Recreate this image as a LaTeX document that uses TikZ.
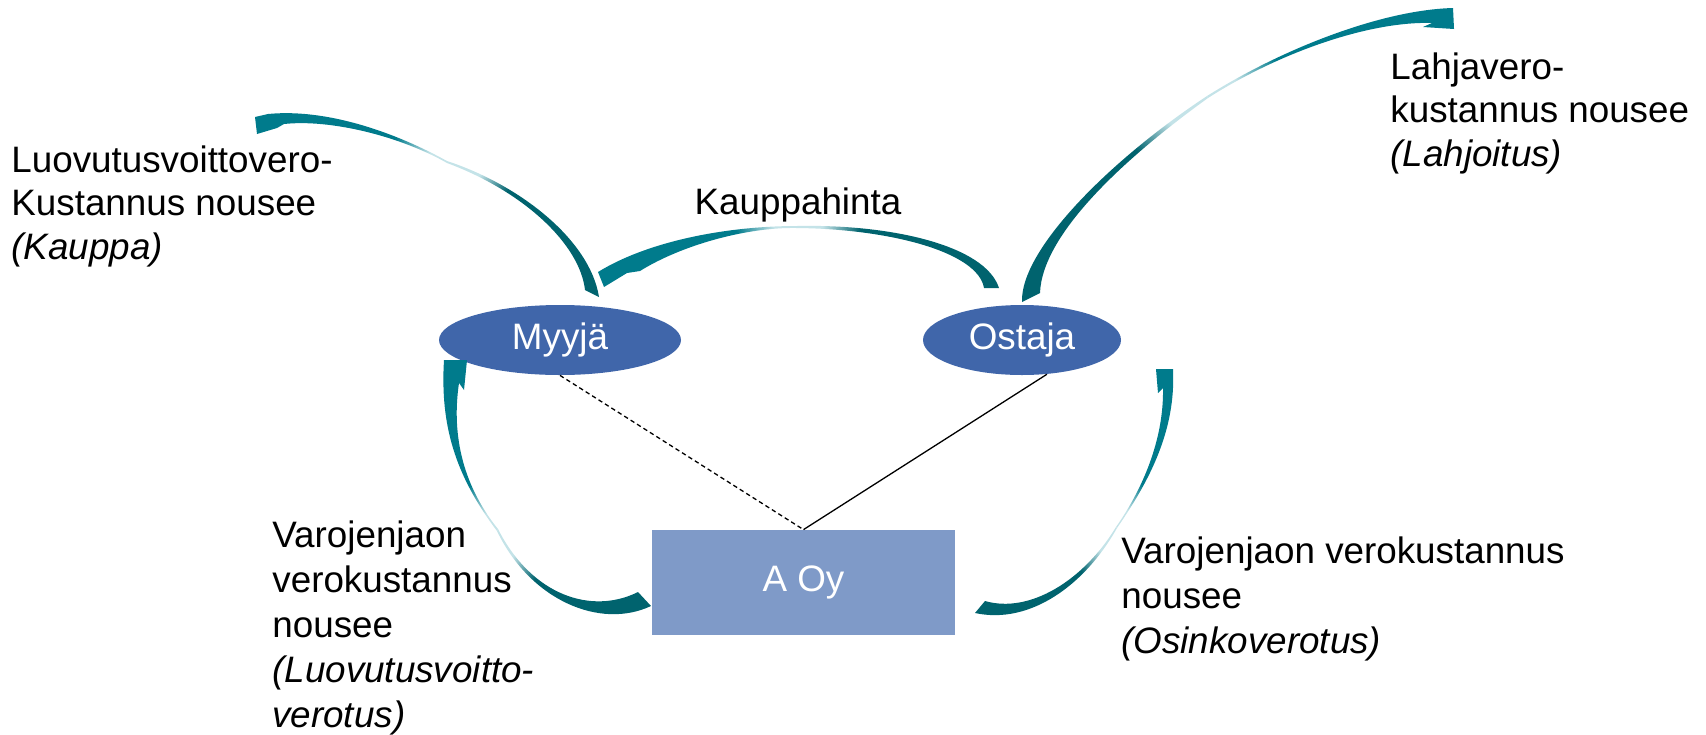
\documentclass[tikz,border=0pt]{standalone}
\usepackage{fontspec}
\setmainfont{Liberation Sans}
\usetikzlibrary{shapes.geometric}
\definecolor{partyblue}{HTML}{4066AA}
\definecolor{firmblue}{HTML}{7F9AC8}
\definecolor{headteal}{HTML}{007B8C}
\definecolor{taildark}{HTML}{00636E}
\definecolor{fadeteal}{HTML}{C4E3E8}
% axis shadings that stay solid and only fade near the thin middle of an arrow
\pgfdeclareverticalshading{headshade}{100bp}{color(0bp)=(fadeteal); color(26bp)=(fadeteal); color(37bp)=(headteal); color(100bp)=(headteal)}
\pgfdeclareverticalshading{tailshade}{100bp}{color(0bp)=(fadeteal); color(26bp)=(fadeteal); color(37bp)=(taildark); color(100bp)=(taildark)}
\begin{document}
\begin{tikzpicture}[x=0.5pt,y=-0.5pt,
  party/.style={ellipse,fill=partyblue,text=white,inner sep=0pt,
    minimum height=35pt,font=\fontsize{18.4}{22}\selectfont},
  firm/.style={rectangle,fill=firmblue,text=white,inner sep=0pt,
    minimum width=151.5pt,minimum height=52.5pt,font=\fontsize{18.4}{22}\selectfont},
  upper/.style={align=left,inner sep=0pt,font=\fontsize{18.4}{21.75}\selectfont},
  lower/.style={align=left,inner sep=0pt,font=\fontsize{18.4}{22.5}\selectfont},
  headpart/.style={draw=none,shading=headshade,shading angle=#1},
  tailpart/.style={draw=none,shading=tailshade,shading angle=#1},
  link/.style={line width=0.65pt,black}
]
\useasboundingbox (0,0) rectangle (1706,734);

% parties and the company
\node[party,minimum width=121pt] (myyja) at (560,340) {Myyjä};
\node[party,minimum width=99pt] (ostaja) at (1022,340) {Ostaja};
\node[firm] (aoy) at (803.5,582.5) {A Oy};

% ownership links
\draw[link,dash pattern=on 2.2pt off 1.6pt] (myyja.south) -- (aoy.north);
\draw[link] (ostaja.-54) -- (aoy.north);

% labels (base anchor sits on the last line)
\node[upper,anchor=base west] (kauppaTxt) at (11,259) {Luovutusvoittovero-\\Kustannus nousee\\\textit{(Kauppa)}};
\node[anchor=base,inner sep=0pt,font=\fontsize{18.4}{22}\selectfont] (hintaTxt) at (798,214) {Kauppahinta};
\node[upper,anchor=base west] (lahjaTxt) at (1390,166) {Lahjavero-\\kustannus nousee\\\textit{(Lahjoitus)}};
\node[lower,anchor=base west] (luovTxt) at (272,727) {Varojenjaon\\verokustannus\\nousee\\\textit{(Luovutusvoitto-}\\\textit{verotus)}};
\node[lower,anchor=base west] (osinkoTxt) at (1121,653) {Varojenjaon verokustannus\\nousee\\\textit{(Osinkoverotus)}};

% curved tapered arrows: each drawn as a tail half and a head half
% Myyja -> capital gains tax cost
\shade[tailpart=-132.5] (447,161) .. controls (520,185) and (590,240) .. (599,297)
  -- (585,290) .. controls (580,245) and (525,192) .. (447,163) -- cycle;
\shade[headpart=79] (447,161) .. controls (400,135) and (330,108) .. (268,114)
  -- (255,117) -- (257,134) -- (277,128) -- (284,124)
  .. controls (330,119) and (400,136) .. (447,163) -- cycle;

% Ostaja -> Myyja (purchase price)
\shade[tailpart=-107.5] (797,226) .. controls (890,224) and (985,245) .. (999,288)
  -- (984,288) .. controls (978,252) and (890,229) .. (797,228) -- cycle;
\shade[headpart=105] (797,226) .. controls (730,226) and (650,240) .. (598,272)
  -- (604,287) -- (627,273) -- (640,271)
  .. controls (680,246) and (745,227) .. (797,228) -- cycle;

% Ostaja -> gift tax cost
\shade[tailpart=138.8] (1022,302) .. controls (1020,250) and (1110,160) .. (1207,96)
  -- (1208,98) .. controls (1122,160) and (1042,235) .. (1040,293) -- cycle;
\shade[headpart=-71.3] (1207,96) .. controls (1280,50) and (1380,10) .. (1453,8)
  -- (1454,29) -- (1423,27) -- (1432,23)
  .. controls (1370,21) and (1280,52) .. (1208,98) -- cycle;

% A Oy -> Myyja
\shade[tailpart=-115.3] (497,531) .. controls (530,600) and (600,630) .. (651,606)
  -- (638,592) .. controls (592,615) and (532,596) .. (498,529) -- cycle;
\shade[headpart=14.7] (497,531) .. controls (455,475) and (440,425) .. (444,360)
  -- (467,360) -- (464,390) -- (459,383)
  .. controls (452,430) and (460,482) .. (498,529) -- cycle;

% A Oy -> Ostaja
\shade[tailpart=120.3] (1117,528) .. controls (1085,585) and (1030,625) .. (975,613)
  -- (985,601) .. controls (1030,614) and (1084,580) .. (1116,527) -- cycle;
\shade[headpart=-17.5] (1117,528) .. controls (1150,480) and (1176,430) .. (1173,369)
  -- (1156,369) -- (1158,393) -- (1163,388)
  .. controls (1164,440) and (1142,490) .. (1116,527) -- cycle;
\end{tikzpicture}
\end{document}
